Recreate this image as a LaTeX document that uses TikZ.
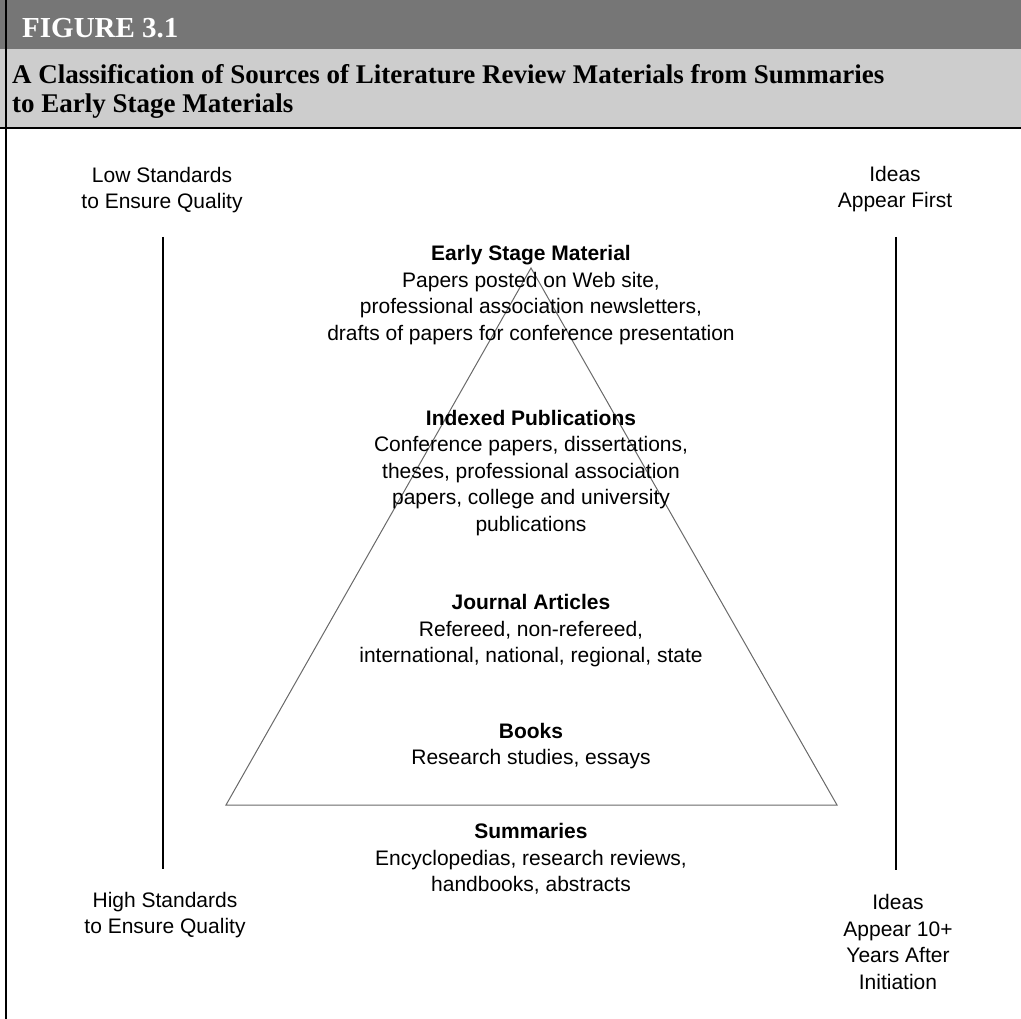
\documentclass[tikz,border=0pt]{standalone}
\usepackage{fontspec}
\setmainfont{Liberation Sans}
\newfontfamily\titlefont{Liberation Serif}
\usetikzlibrary{positioning}

\definecolor{barcolor}{RGB}{118,118,118}
\definecolor{boxcolor}{RGB}{205,205,205}
\definecolor{edgecolor}{RGB}{105,105,105}

\begin{document}
\begin{tikzpicture}[x=1pt, y=-1pt, main/.style = {align=center, inner sep=0pt, font=\fontsize{21}{26.5}\selectfont}, scaleline/.style = {line width=1.6pt}, head/.style = {inner sep=0pt, anchor=west}]
	\useasboundingbox (0,0) rectangle (1021,1019);
	\fill[barcolor] (0,0) rectangle (1021,49);
	\fill[boxcolor] (0,49) rectangle (1021,128);
	\draw[line width=1.5pt] (0,128) -- (1021,128);
	\draw[line width=2pt] (6,0) -- (6,1019);

	\node[head, text=white, font=\titlefont\bfseries\fontsize{29}{32}\selectfont] (figno) at (22,28) {FIGURE 3.1};
	\node[head, align=left, font=\titlefont\bfseries\fontsize{27}{29}\selectfont] (title) at (12,91.5) {A Classification of Sources of Literature Review Materials from Summaries\\to Early Stage Materials};

	\node[main] (lowstd) at (162,190) {Low Standards\\to Ensure Quality};
	\node[main] (highstd) at (165,915) {High Standards\\to Ensure Quality};
	\node[main] (first) at (895,189) {Ideas\\Appear First};
	\node[main] (later) at (898,942) {Ideas\\Appear 10+\\Years After\\Initiation};

	\coordinate (ltop) at (163,237);
	\coordinate (lbot) at (163,869);
	\coordinate (rtop) at (896,237);
	\coordinate (rbot) at (896,870);
	\draw[scaleline] (ltop) -- (lbot);
	\draw[scaleline] (rtop) -- (rbot);

	\coordinate (apex) at (531,268);
	\coordinate (baseleft) at (226,805);
	\coordinate (baseright) at (837,805);
	\draw[edgecolor, line width=1pt] (apex) -- (baseleft) -- (baseright) -- cycle;

	\node[main] (early) at (531,295) {\textbf{Early Stage Material}\\Papers posted on Web site,\\professional association newsletters,\\drafts of papers for conference presentation};
	\node[main] (indexed) at (531,473) {\textbf{Indexed Publications}\\Conference papers, dissertations,\\theses, professional association\\papers, college and university\\publications};
	\node[main] (journal) at (531,631) {\textbf{Journal Articles}\\Refereed, non-refereed,\\international, national, regional, state};
	\node[main] (books) at (531,746) {\textbf{Books}\\Research studies, essays};
	\node[main] (summaries) at (531,859) {\textbf{Summaries}\\Encyclopedias, research reviews,\\handbooks, abstracts};
\end{tikzpicture}
\end{document}
